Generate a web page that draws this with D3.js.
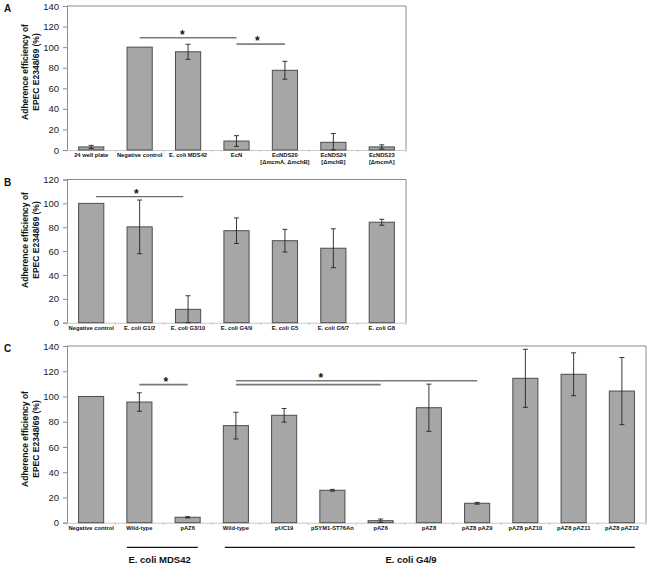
<!DOCTYPE html>
<html>
<head>
<meta charset="utf-8">
<script src="https://cdn.jsdelivr.net/npm/d3@7"></script>
<style>
  body { margin: 0; background: #fff; }
  text { font-family: "Liberation Sans", Arial, sans-serif; }
</style>
</head>
<body>
<div id="root"></div>
<script>
// Panel A data
const catsA = ["24 well plate", "Negative control", "E. coli MDS42", "EcN",
  "EcNDS20|[ΔmcmA, ΔmchB]", "EcNDS24|[ΔmchB]", "EcNDS23|[ΔmcmA]"];
const valsA = [3, 100, 95.5, 8.7, 77.5, 7.5, 3];
const errsA = [1.5, 0, 7.3, 5.2, 8.7, 8.5, 2];
// significance lines: [from category, to category, value, star position, line colour]
const sigA = [[1, 3, 109.2, 2.38], [3, 4, 103, 3.93]];

// Panel B data
const catsB = ["Negative control", "E. coli G1/2", "E. coli G3/10", "E. coli G4/9",
  "E. coli G5", "E. coli G6/7", "E. coli G8"];
const valsB = [100, 80.3, 11.2, 77.1, 68.7, 62.4, 84.2];
const errsB = [0, 22.5, 11.4, 10.7, 9.5, 16.3, 2.5];
const sigB = [[0.1, 1.9, 105.6, 1.43]];

// Panel C data
const catsC = ["Negative control", "Wild-type", "pAZ6", "Wild-type", "pUC19",
  "pSYM1-ST76An", "pAZ6", "pAZ8", "pAZ8 pAZ9", "pAZ8 pAZ10", "pAZ8 pAZ11", "pAZ8 pAZ12"];
const valsC = [100, 95.6, 4.3, 76.9, 85.1, 25.7, 1.6, 91.1, 15.4, 114.4, 117.6, 104.3];
const errsC = [0, 7.3, 0.5, 10.6, 5.4, 0.7, 1.3, 18.7, 0.7, 23, 17, 26.6];
const sigC = [[1, 2, 109.4, 2.05], [3, 8, 112.5, 5.26], [3, 6, 109.4, null]];
// groups under panel C: [label, from, to, label position]
const groupsC = [["E. coli MDS42", 1.24, 2.71, 1.92], ["E. coli G4/9", 3.27, 11.77, 7.13]];

const width = 650;
const height = 565;

const svg = d3
  .select("#root")
  .append("svg")
  .attr("width", width)
  .attr("height", height);

svg.append("rect").attr("width", width).attr("height", height).attr("fill", "#fff");

function drawPanel(opt) {
  const g = svg.append("g");
  const x = d3
    .scaleBand()
    .domain(d3.range(opt.cats.length))
    .range([opt.left, opt.right])
    .paddingInner(0.48)
    .paddingOuter(0.24);
  // category units -> pixels, for annotations
  const xu = d3.scaleLinear().domain([0, opt.cats.length]).range([opt.left, opt.right]);
  const y = d3.scaleLinear().domain([0, opt.ymax]).range([opt.bottom, opt.top]);

  // frame top and right
  g.append("path")
    .attr("d", `M${opt.left},${opt.top}H${opt.right}V${opt.bottom}`)
    .attr("fill", "none")
    .attr("stroke", "#8c8c8c")
    .attr("stroke-width", 1);

  // y axis
  const yAxis = d3.axisLeft(y).tickValues(d3.range(0, opt.ymax + 1, 20)).tickSize(4).tickPadding(4);
  const ya = g.append("g").attr("transform", `translate(${opt.left},0)`).call(yAxis);
  ya.select(".domain").attr("stroke", "#8c8c8c");
  ya.selectAll(".tick line").attr("stroke", "#8c8c8c");
  ya.selectAll(".tick text")
    .attr("font-size", "9.5px")
    .attr("fill", "#222")
    .attr("font-family", "Liberation Sans, Arial, sans-serif");

  // x axis
  const xAxis = d3.axisBottom(x).tickSize(0).tickFormat("");
  const xa = g.append("g").attr("transform", `translate(0,${opt.bottom})`).call(xAxis);
  xa.select(".domain").attr("stroke", "#c8c8c8");
  g.selectAll(".xtick")
    .data(d3.range(opt.cats.length + 1))
    .enter()
    .append("line")
    .attr("x1", d => xu(d))
    .attr("x2", d => xu(d))
    .attr("y1", opt.bottom)
    .attr("y2", opt.bottom + 2.5)
    .attr("stroke", "#c8c8c8");

  const labels = g.selectAll(".xlab")
    .data(opt.cats)
    .enter()
    .append("text")
    .attr("text-anchor", "middle")
    .attr("font-size", "5.8px")
    .attr("font-weight", "bold")
    .attr("fill", "#111");
  labels.each(function(d, i) {
    const parts = d.split("|");
    d3.select(this)
      .selectAll("tspan")
      .data(parts)
      .enter()
      .append("tspan")
      .attr("x", x(i) + x.bandwidth() / 2)
      .attr("y", (p, j) => opt.bottom + 7 + j * 6.8)
      .text(p => p);
  });

  // bars
  g.selectAll(".bar")
    .data(opt.vals)
    .enter()
    .append("rect")
    .attr("x", (d, i) => x(i))
    .attr("y", d => y(d))
    .attr("width", x.bandwidth())
    .attr("height", d => opt.bottom - y(d))
    .attr("fill", "#a6a6a6")
    .attr("stroke", "#4d4d4d")
    .attr("stroke-width", 1);

  // error bars
  const eb = g.selectAll(".err")
    .data(opt.vals.map((v, i) => ({ v: v, e: opt.errs[i], i: i })).filter(d => d.e > 0))
    .enter()
    .append("g")
    .attr("stroke", "#222")
    .attr("stroke-width", 0.9);
  eb.append("line")
    .attr("x1", d => x(d.i) + x.bandwidth() / 2)
    .attr("x2", d => x(d.i) + x.bandwidth() / 2)
    .attr("y1", d => y(d.v + d.e))
    .attr("y2", d => y(Math.max(0, d.v - d.e)));
  [1, -1].forEach(s => {
    eb.append("line")
      .attr("x1", d => x(d.i) + x.bandwidth() / 2 - 2.5)
      .attr("x2", d => x(d.i) + x.bandwidth() / 2 + 2.5)
      .attr("y1", d => y(Math.max(0, d.v + s * d.e)))
      .attr("y2", d => y(Math.max(0, d.v + s * d.e)));
  });

  // significance lines and stars
  opt.sig.forEach((s, k) => {
    g.append("line")
      .attr("x1", xu(s[0] + 0.5))
      .attr("x2", xu(s[1] + 0.5))
      .attr("y1", y(s[2]))
      .attr("y2", y(s[2]))
      .attr("stroke", opt.sigColor[k])
      .attr("stroke-width", opt.sigWidth[k]);
    if (s[3] !== null) {
      g.append("text")
        .attr("x", xu(s[3]))
        .attr("y", y(s[2]) + 1)
        .attr("text-anchor", "middle")
        .attr("font-size", "12px")
        .attr("font-weight", "bold")
        .attr("fill", "#111")
        .text("*");
    }
  });

  // y title
  const ty = g.append("text")
    .attr("transform", `translate(0,${opt.titleY}) rotate(-90)`)
    .attr("text-anchor", "middle")
    .attr("font-size", "8.5px")
    .attr("font-weight", "bold")
    .attr("fill", "#111");
  ty.append("tspan").attr("x", 0).attr("y", 28).text("Adherence efficiency of");
  ty.append("tspan").attr("x", 0).attr("y", 39).text("EPEC E2348/69 (%)");

  // panel letter
  g.append("text")
    .attr("x", 4)
    .attr("y", opt.top + 6)
    .attr("font-size", "10px")
    .attr("font-weight", "bold")
    .attr("fill", "#111")
    .text(opt.letter);

  return { g: g, xu: xu };
}

drawPanel({
  letter: "A", cats: catsA, vals: valsA, errs: errsA, sig: sigA,
  sigColor: ["#7a7a7a", "#222"], sigWidth: [1.6, 1],
  left: 67, right: 406, top: 6, bottom: 150, ymax: 140, titleY: 72
});

drawPanel({
  letter: "B", cats: catsB, vals: valsB, errs: errsB, sig: sigB,
  sigColor: ["#6a6a6a"], sigWidth: [1.2],
  left: 67, right: 406, top: 179.5, bottom: 322.7, ymax: 120, titleY: 240
});

const pc = drawPanel({
  letter: "C", cats: catsC, vals: valsC, errs: errsC, sig: sigC,
  sigColor: ["#7a7a7a", "#7a7a7a", "#7a7a7a"], sigWidth: [1.6, 1.6, 1.6],
  left: 67, right: 646, top: 346, bottom: 522.7, ymax: 140, titleY: 439
});

// group brackets under panel C
groupsC.forEach(gr => {
  pc.g.append("line")
    .attr("x1", pc.xu(gr[1]))
    .attr("x2", pc.xu(gr[2]))
    .attr("y1", 547.3)
    .attr("y2", 547.3)
    .attr("stroke", "#111")
    .attr("stroke-width", 1.2);
  pc.g.append("text")
    .attr("x", pc.xu(gr[3]))
    .attr("y", 563)
    .attr("text-anchor", "middle")
    .attr("font-size", "9.5px")
    .attr("font-weight", "bold")
    .attr("fill", "#111")
    .text(gr[0]);
});
</script>
</body>
</html>
